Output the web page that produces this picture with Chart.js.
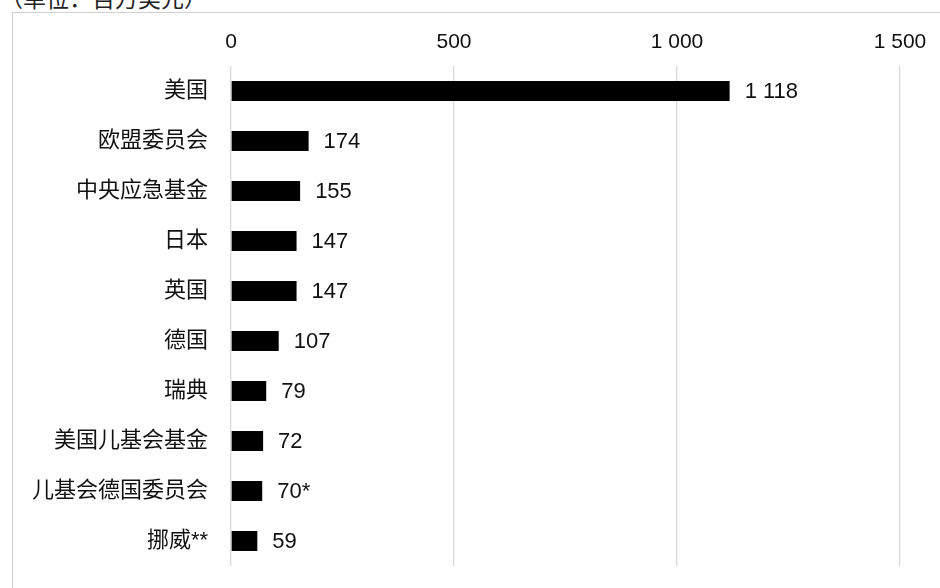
<!DOCTYPE html>
<html lang="zh">
<head>
  <meta charset="UTF-8">
  <title>捐助方</title>
  <script src="https://cdn.jsdelivr.net/npm/chart.js"></script>
  <style>
    html, body { margin: 0; padding: 0; background: #fff; overflow: hidden; }
    body { width: 940px; height: 588px; position: relative; font-family: "Liberation Sans", "Noto Sans CJK SC", sans-serif; }
    #unit { position: absolute; left: 0; top: -14px; font-size: 23px; line-height: 23px; color: #222; font-family: "Noto Sans CJK SC", sans-serif; }
    #frame { position: absolute; left: 12px; top: 12px; width: 960px; height: 600px; border: 1px solid #d0d0d0; }
    #wrap { position: absolute; left: 0; top: 0; width: 940px; height: 588px; }
  </style>
</head>
<body>
  <div id="unit">（单位：百万美元）</div>
  <div id="frame"></div>
  <div id="wrap"><canvas id="donorChart"></canvas></div>

  <script>
    const donors = ['美国', '欧盟委员会', '中央应急基金', '日本', '英国', '德国', '瑞典', '美国儿基会基金', '儿基会德国委员会', '挪威**'];
    const amounts = [1118, 174, 155, 147, 147, 107, 79, 72, 70, 59];
    const amountLabels = ['1 118', '174', '155', '147', '147', '107', '79', '72', '70*', '59'];
    const xTicks = { 0: '0', 500: '500', 1000: '1 000', 1500: '1 500' };

    const labelFont = '22px "Liberation Sans", "Noto Sans CJK SC", sans-serif';

    // value labels to the right of each bar
    const barLabels = {
      id: 'barLabels',
      afterDatasetsDraw(chart) {
        const c = chart.ctx;
        c.save();
        c.font = labelFont;
        c.fillStyle = '#111';
        c.textBaseline = 'middle';
        c.textAlign = 'left';
        chart.getDatasetMeta(0).data.forEach((bar, i) => {
          c.fillText(amountLabels[i], bar.x + 15, bar.y + 1);
        });
        c.restore();
      }
    };

    new Chart(document.getElementById('donorChart'), {
      type: 'bar',
      data: {
        labels: donors,
        datasets: [{
          data: amounts,
          backgroundColor: '#000',
          borderWidth: 0,
          barPercentage: 0.8,
          categoryPercentage: 0.5
        }]
      },
      options: {
        indexAxis: 'y',
        responsive: true,
        maintainAspectRatio: false,
        animation: false,
        layout: { padding: { top: 0, right: 40, bottom: 22, left: 0 } },
        plugins: {
          legend: { display: false },
          tooltip: { enabled: false }
        },
        scales: {
          x: {
            position: 'top',
            min: 0,
            max: 1500,
            afterFit(scale) { scale.height = 66; },
            grid: { color: '#d9d9d9', lineWidth: 1.3, drawTicks: false },
            border: { display: false },
            ticks: {
              stepSize: 500,
              padding: 11,
              color: '#111',
              font: { family: '"Liberation Sans", sans-serif', size: 21 },
              callback: v => xTicks[v]
            }
          },
          y: {
            afterFit(scale) {
              scale.width = 231;
              scale.paddingTop = 0;
              scale.paddingBottom = 0;
            },
            grid: { display: false },
            border: { display: false },
            ticks: {
              padding: 15,
              color: '#111',
              font: { family: '"Liberation Sans", "Noto Sans CJK SC", sans-serif', size: 22 }
            }
          }
        }
      },
      plugins: [barLabels]
    });
  </script>
</body>
</html>
